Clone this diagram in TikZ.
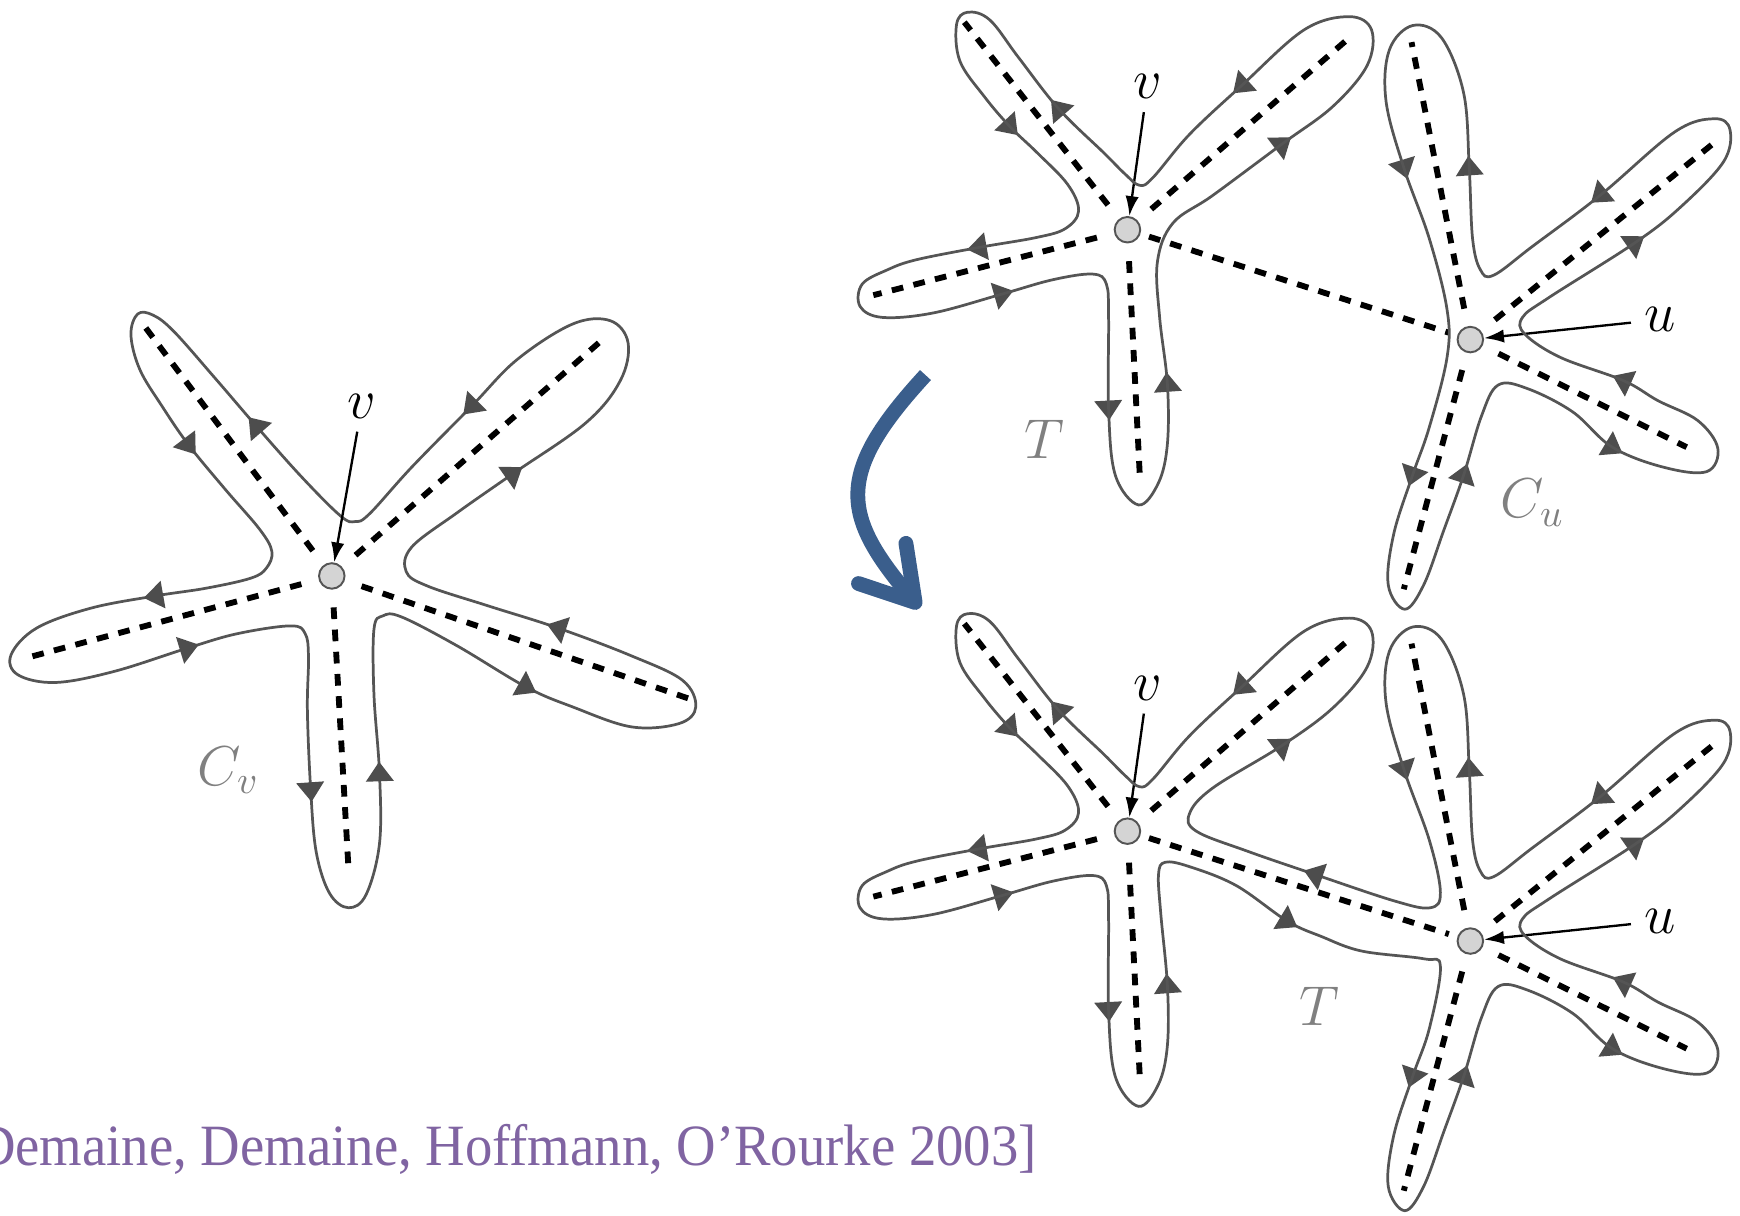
\documentclass[tikz,border=0pt]{standalone}
\usepackage{fontspec}
\usepackage{tikz}
\usetikzlibrary{arrows.meta}
\newfontfamily\citefont[FakeStretch=0.935]{Liberation Serif}
\definecolor{tourgray}{HTML}{555555}
\definecolor{tipgray}{HTML}{4D4D4D}
\definecolor{labelgray}{HTML}{808080}
\definecolor{flowblue}{HTML}{3A5E8C}
\definecolor{citepurple}{HTML}{8064A2}

\tikzset{
  tour/.style={draw=tourgray, line width=0.7pt},
  treeedge/.style={line width=1.5pt, dash pattern=on 3pt off 2.7pt, shorten <=1.6mm},
  vertex/.style={circle, draw=tourgray, fill=black!17, line width=0.5pt, minimum size=2.3mm, inner sep=0pt},
  vlabel/.style={font=\Large, inner sep=1pt},
  treelabel/.style={font=\Large, text=labelgray},
  pointer/.style={-{Latex[length=1.8mm,width=1.2mm]}, line width=0.6pt, shorten <=0.8mm},
}
% arrowhead on the tour: x, y, angle
\newcommand{\tourtip}[3]{\fill[tipgray, shift={(#1,#2)}, rotate=#3] (3pt,0) -- (-2pt,3.6pt) -- (-2pt,-3.6pt) -- cycle;}

\begin{document}
\begin{tikzpicture}[x=0.1mm, y=-0.1mm]
\useasboundingbox (0,0) rectangle (1568,1095);

% --- left: C_v ---
\node[vertex] (cv) at (299,519) {};
\coordinate (l1) at (128,291);
\coordinate (l2) at (543,306);
\coordinate (l3) at (27,592);
\coordinate (l4) at (625,631);
\coordinate (l5) at (314,782);
\foreach \k in {1,...,5} \draw[treeedge] (cv) -- (l\k);
\draw[tour] plot[smooth cycle, tension=0.6] coordinates {
  (124,283) (118,302) (126,333) (146,366) (170,401) (203,441) (234,477) (245,497)
  (240,512) (226,521) (186,530) (140,537) (82,548) (33,566) (10,590) (16,608)
  (50,615) (103,605) (169,584) (214,571) (262,564) (275,571) (278,592) (277,640)
  (280,712) (285,768) (297,805) (314,818) (330,806) (342,760) (342,697) (337,626)
  (337,567) (345,555) (362,556) (412,582) (474,619) (516,637) (569,655) (612,652)
  (627,637) (615,613) (569,591) (503,566) (440,546) (385,528) (366,515) (371,493)
  (412,462) (462,427) (528,381) (559,343) (566,309) (550,289) (516,292) (466,324)
  (425,366) (371,421) (333,463) (320,470) (307,465) (272,430) (231,384) (194,341)
  (157,299) (138,284)};
\tourtip{170}{401}{-53}
\tourtip{140}{537}{-170}
\tourtip{169}{584}{17}
\tourtip{280}{712}{-86}
\tourtip{342}{697}{92}
\tourtip{474}{619}{-29}
\tourtip{503}{566}{162}
\tourtip{462}{427}{35}
\tourtip{425}{366}{-135}
\tourtip{231}{384}{131}
\node[vlabel] (cvl) at (326,366) {$v$};
\draw[pointer] (cvl) -- (cv);
\node[treelabel] (cvname) at (206,694) {$C_v$};

% --- blue arrow ---
\coordinate (flowstart) at (834,338);
\coordinate (flowend) at (829,548);
\draw[flowblue, line width=3.8pt, -{Straight Barb[length=4.6mm, width=5.6mm, round]}]
  (flowstart) .. controls (752,427) and (758,464) .. (flowend);

% --- right: T and C_u, before (top) and after (bottom) ---
\foreach \dy/\p in {0/t, 542/b} {
\begin{scope}[shift={(0,\dy)}]
  \node[vertex] (\p v) at (1016,207) {};
  \node[vertex] (\p u) at (1325,306) {};
  \coordinate (\p1) at (869,20);
  \coordinate (\p2) at (1216,34);
  \coordinate (\p3) at (787,266);
  \coordinate (\p4) at (1027,426);
  \coordinate (\p5) at (1272,38);
  \coordinate (\p6) at (1548,126);
  \coordinate (\p7) at (1520,403);
  \coordinate (\p8) at (1265,531);
  \foreach \k in {1,...,4} \draw[treeedge] (\p v) -- (\p\k);
  \foreach \k in {5,...,8} \draw[treeedge] (\p u) -- (\p\k);
  \draw[treeedge, shorten <=0.8mm, shorten >=0.8mm] (\p v) -- (\p u);
  \tourtip{910}{114}{-47}
  \tourtip{882}{223}{-170}
  \tourtip{903}{265}{16}
  \tourtip{999}{368}{-87}
  \tourtip{1052}{346}{94}
  \tourtip{1155}{130}{37}
  \tourtip{1119}{77}{-138}
  \tourtip{954}{98}{131}
  \tourtip{1265}{151}{-73}
  \tourtip{1273}{428}{-109}
  \tourtip{1319}{428}{72}
  \tourtip{1453}{403}{-31}
  \tourtip{1463}{343}{156}
  \tourtip{1473}{219}{35}
  \tourtip{1442}{176}{-141}
  \tourtip{1324}{151}{94}
  \node[vlabel] (\p vl) at (1034,78) {$v$};
  \node[vlabel] (\p ul) at (1496,288) {$u$};
  \draw[pointer] (\p vl) -- (\p v);
  \draw[pointer] (\p ul) -- (\p u);
\end{scope}
}

% top: two separate tours
\draw[tour] plot[smooth cycle, tension=0.6] coordinates {
  (872,11) (862,22) (865,55) (887,87) (910,114) (934,137) (962,166) (972,190)
  (960,206) (934,214) (882,223) (826,234) (800,243) (777,256) (775,276) (795,286)
  (841,282) (903,265) (949,252) (985,247) (997,256) (999,286) (999,368) (1005,428)
  (1026,455) (1044,435) (1052,400) (1052,346) (1045,286) (1043,236) (1057,201) (1093,176)
  (1155,130) (1201,96) (1232,59) (1236,27) (1216,15) (1175,27) (1119,77) (1072,121)
  (1039,160) (1027,167) (1014,157) (995,138) (954,98) (918,52) (892,18)};
\draw[tour] plot[smooth cycle, tension=0.6] coordinates {
  (1273,23) (1252,45) (1249,91) (1265,151) (1288,215) (1304,279) (1304,322) (1288,385)
  (1273,428) (1256,481) (1251,527) (1266,549) (1283,527) (1301,478) (1319,428) (1335,375)
  (1350,347) (1376,350) (1417,371) (1453,403) (1499,421) (1538,425) (1548,404) (1530,379)
  (1494,361) (1463,343) (1406,322) (1374,301) (1372,286) (1396,268) (1473,219) (1514,187)
  (1553,146) (1559,117) (1545,107) (1509,119) (1442,176) (1381,222) (1346,248) (1334,243)
  (1327,215) (1324,151) (1319,84) (1299,34)};
\node[treelabel] (tname) at (941,396) {$T$};
\node[treelabel] (cuname) at (1381,453) {$C_u$};

% bottom: one tour round both
\begin{scope}[shift={(0,542)}]
\draw[tour] plot[smooth cycle, tension=0.6] coordinates {
  (872,11) (862,22) (865,55) (887,87) (910,114) (934,137) (962,166) (972,190)
  (960,206) (934,214) (882,223) (826,234) (800,243) (777,256) (775,276) (795,286)
  (841,282) (903,265) (949,252) (985,247) (997,256) (999,286) (999,368) (1005,428)
  (1026,455) (1044,435) (1052,400) (1052,346) (1046,281) (1044,246) (1050,235) (1072,239)
  (1114,256) (1160,288) (1191,302) (1227,315) (1283,322) (1298,329)
  (1288,385) (1273,428) (1256,481) (1251,527) (1266,549) (1283,527) (1301,478) (1319,428)
  (1335,375) (1350,347) (1376,350) (1417,371) (1453,403) (1499,421) (1538,425) (1548,404)
  (1530,379) (1494,361) (1463,343) (1406,322) (1374,301) (1372,286) (1396,268) (1473,219)
  (1514,187) (1553,146) (1559,117) (1545,107) (1509,119) (1442,176) (1381,222) (1346,248)
  (1334,243) (1327,215) (1324,151) (1319,84) (1299,34) (1273,23) (1252,45) (1249,91)
  (1265,151) (1288,215) (1298,262) (1289,276) (1257,270) (1185,246) (1124,225) (1078,207)
  (1072,191) (1093,168) (1155,130) (1201,96) (1232,59) (1236,27) (1216,15) (1175,27)
  (1119,77) (1072,121) (1039,160) (1027,167) (1014,157) (995,138) (954,98) (918,52)
  (892,18)};
\tourtip{1160}{288}{-31}
\tourtip{1185}{246}{161}
\node[treelabel] (bname) at (1189,365) {$T$};
\end{scope}

% --- source ---
\node[anchor=base east, inner sep=0pt, text=citepurple, font=\citefont\fontsize{15}{18}\selectfont] (cite) at (935,1050)
  {[Demaine, Demaine, Hoffmann, O’Rourke 2003]};
\end{tikzpicture}
\end{document}
